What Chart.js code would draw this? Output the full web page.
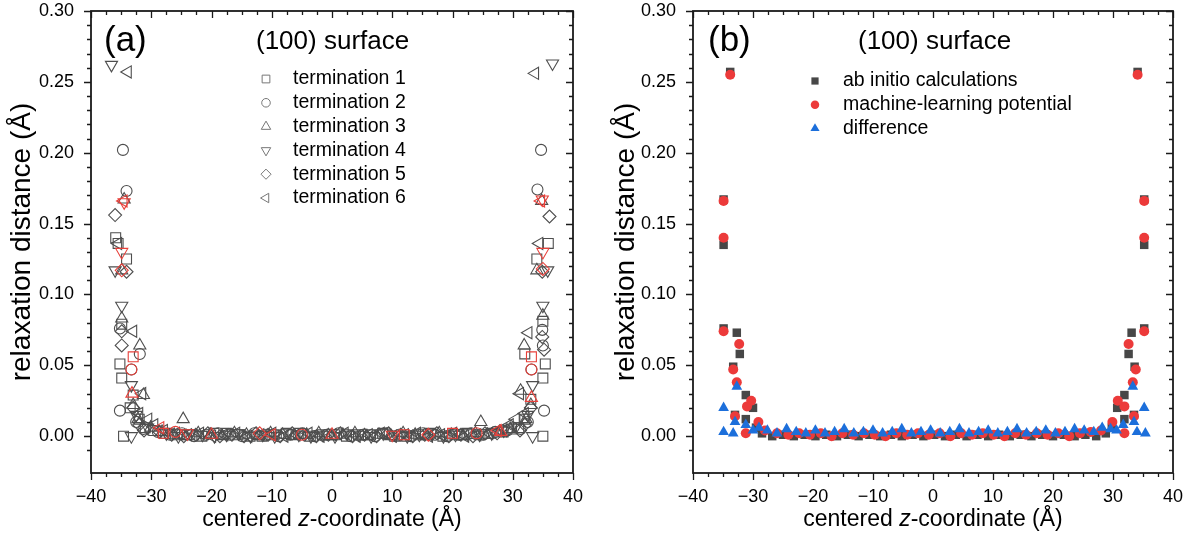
<!DOCTYPE html>
<html>
<head>
<meta charset="utf-8">
<script src="https://cdn.jsdelivr.net/npm/chart.js@4.4.1/dist/chart.umd.min.js"></script>
<style>
  html, body { margin: 0; padding: 0; background: #fff; }
  #wrap { position: relative; width: 1199px; height: 536px; }
  canvas { position: absolute; top: 0; }
  #chartA { left: 0; }
  #chartB { left: 600px; }
</style>
</head>
<body>
<div id="wrap">
  <canvas id="chartA" width="600" height="536"></canvas>
  <canvas id="chartB" width="599" height="536"></canvas>
</div>
<script>
const FONT = "'Liberation Sans', Arial, sans-serif";

// axes
const xTicks = [-40, -30, -20, -10, 0, 10, 20, 30, 40];
const yTicks = [0, 0.05, 0.10, 0.15, 0.20, 0.25, 0.30];
const xMin = -40, xMax = 40;
const yMin = -0.026, yMax = 0.30;

// panel (a): relaxation per termination, [z, distance]
const termLabels = ['termination 1', 'termination 2', 'termination 3', 'termination 4', 'termination 5', 'termination 6'];

const term1 = [
  [-35.9,0.140],[-35.5,0.136],[-34.1,0.125],[-34.9,0.079],[-35.2,0.051],[-34.9,0.041],[-33.0,0.029],[-33.5,0.020],[-32.0,0.012],[-34.6,0.000],[-31.0,0.006],
  [-29.6,0.004],[-27.6,0.002],[-25.6,0.001],[-23.6,0.001],[-21.6,0.000],[-19.6,0.002],[-17.6,0.002],[-15.6,0.001],[-13.6,0.000],[-11.6,0.000],
  [-9.6,0.001],[-7.6,0.002],[-5.6,0.002],[-3.6,0.000],[-1.6,0.001],[0.4,0.001],[2.4,0.000],[4.4,0.001],[6.4,0.001],[8.4,0.002],
  [10.4,0.000],[12.4,0.000],[14.4,0.001],[16.4,0.002],[18.4,0.000],[20.4,0.001],[22.4,0.002],[24.4,0.001],[26.4,0.002],[28.4,0.003],
  [29.8,0.005],[31.0,0.006],[32.0,0.012],[33.0,0.026],[35.0,0.000],[35.4,0.051],[35.0,0.041],[32.0,0.058],[34.0,0.125],[35.9,0.136],[35.0,0.081]
];
const term2 = [
  [-34.7,0.202],[-34.1,0.173],[-35.2,0.076],[-31.9,0.058],[-33.3,0.047],[-35.2,0.018],[-32.5,0.010],[-31.3,0.005],
  [-28.9,0.003],[-26.9,0.001],[-24.9,0.002],[-22.9,0.000],[-20.9,0.001],[-18.9,0.002],[-16.9,0.001],[-14.9,0.000],[-12.9,0.002],[-10.9,0.001],
  [-8.9,0.000],[-6.9,0.001],[-4.9,0.002],[-2.9,0.000],[-0.9,0.001],[1.1,0.002],[3.1,0.000],[5.1,0.001],[7.1,0.000],[9.1,0.002],
  [11.1,0.001],[13.1,0.000],[15.1,0.002],[17.1,0.001],[19.1,0.000],[21.1,0.001],[23.1,0.002],[25.1,0.001],[27.1,0.003],[29.1,0.004],
  [31.3,0.005],[32.5,0.010],[35.2,0.018],[33.1,0.047],[35.0,0.064],[34.9,0.075],[34.1,0.174],[34.7,0.202]
];
const term3 = [
  [-34.5,0.167],[-34.9,0.117],[-34.9,0.083],[-31.9,0.064],[-31.3,0.029],[-33.0,0.022],[-32.2,0.012],[-24.7,0.012],
  [-30.1,0.006],[-28.2,0.003],[-26.2,0.001],[-24.2,0.000],[-22.2,0.002],[-20.2,0.001],[-18.2,0.000],[-16.2,0.002],[-14.2,0.001],[-12.2,0.000],
  [-10.2,0.002],[-8.2,0.001],[-6.2,0.000],[-4.2,0.001],[-2.2,0.002],[-0.2,0.000],[1.8,0.001],[3.8,0.002],[5.8,0.000],[7.8,0.001],
  [9.8,0.000],[11.8,0.002],[13.8,0.001],[15.8,0.000],[17.8,0.002],[19.8,0.001],[21.8,0.000],[23.8,0.002],[25.8,0.001],[27.8,0.003],[29.6,0.005],
  [24.7,0.010],[31.3,0.032],[32.2,0.012],[33.0,0.022],[31.9,0.064],[35.0,0.085],[34.0,0.117],[34.8,0.166]
];
const term4 = [
  [-36.6,0.262],[-36.0,0.117],[-34.9,0.092],[-33.3,0.036],[-33.3,0.000],[-32.5,0.015],[-30.6,0.006],
  [-27.5,0.002],[-25.5,0.000],[-23.5,0.002],[-21.5,0.001],[-19.5,0.000],[-17.5,0.001],[-15.5,0.002],[-13.5,0.000],[-11.5,0.001],[-9.5,0.000],
  [-7.5,0.002],[-5.5,0.001],[-3.5,0.000],[-1.5,0.001],[0.5,0.000],[2.5,0.002],[4.5,0.001],[6.5,0.000],[8.5,0.002],[10.5,0.001],
  [12.5,0.000],[14.5,0.001],[16.5,0.002],[18.5,0.000],[20.5,0.001],[22.5,0.002],[24.5,0.001],[26.5,0.002],[28.5,0.004],
  [30.6,0.007],[32.5,0.015],[33.3,0.000],[33.3,0.036],[35.0,0.092],[35.8,0.117],[36.6,0.263]
];
const term5 = [
  [-36.0,0.156],[-34.1,0.116],[-34.9,0.074],[-34.9,0.064],[-33.0,0.020],[-32.0,0.008],[-31.2,0.004],
  [-28.6,0.003],[-26.6,0.001],[-24.6,0.000],[-22.6,0.001],[-20.6,0.002],[-18.6,0.000],[-16.6,0.001],[-14.6,0.000],[-12.6,0.002],[-10.6,0.001],
  [-8.6,0.000],[-6.6,0.002],[-4.6,0.001],[-2.6,0.000],[-0.6,0.001],[1.4,0.002],[3.4,0.000],[5.4,0.001],[7.4,0.000],[9.4,0.002],
  [11.4,0.001],[13.4,0.000],[15.4,0.001],[17.4,0.002],[19.4,0.000],[21.4,0.001],[23.4,0.000],[25.4,0.002],[27.4,0.002],[29.0,0.004],
  [31.2,0.004],[32.0,0.008],[33.0,0.020],[35.2,0.061],[34.9,0.070],[34.9,0.116],[36.1,0.155]
];
const term6 = [
  [-33.9,0.257],[-35.5,0.136],[-33.0,0.074],[-31.5,0.030],[-32.0,0.016],[-29.5,0.008],[-30.5,0.012],
  [-27.9,0.004],[-25.9,0.002],[-23.9,0.001],[-21.9,0.002],[-19.9,0.000],[-17.9,0.001],[-15.9,0.002],[-13.9,0.000],[-11.9,0.001],[-9.9,0.002],
  [-7.9,0.000],[-5.9,0.001],[-3.9,0.002],[-1.9,0.000],[0.1,0.001],[2.1,0.002],[4.1,0.000],[6.1,0.001],[8.1,0.002],[10.1,0.000],
  [12.1,0.001],[14.1,0.002],[16.1,0.000],[18.1,0.001],[20.1,0.002],[22.1,0.000],[24.1,0.001],[26.1,0.002],[27.9,0.004],
  [29.5,0.008],[30.5,0.012],[32.0,0.016],[31.2,0.030],[32.6,0.073],[34.4,0.136],[33.7,0.256]
];

// panel (a): red overlays (machine-learning values) per termination
const ml1 = [[-33.0,0.056],[-28.0,0.002],[12.0,0.001],[20.0,0.002],[33.1,0.056]];
const ml2 = [[-33.3,0.047],[-26.0,0.003],[-5.0,0.001],[24.0,0.002],[33.1,0.047]];
const ml3 = [[-33.2,0.030],[-20.0,0.001],[0.0,0.001],[28.0,0.003],[33.1,0.027]];
const ml4 = [[-34.9,0.130],[-34.5,0.165],[-24.0,0.002],[10.0,0.001],[35.0,0.130],[34.9,0.167]];
const ml5 = [[-34.9,0.117],[-12.0,0.002],[16.0,0.001],[35.0,0.118]];
const ml6 = [[-34.6,0.166],[-28.5,0.006],[-10.0,0.001],[27.5,0.004],[34.7,0.166]];

// panel (b): comparison, [z, distance]
const compLabels = ['ab initio calculations', 'machine-learning potential', 'difference'];

const abInitio = [
  [-33.8,0.257],[-34.9,0.167],[-34.9,0.135],[-34.9,0.076],[-32.7,0.073],[-32.2,0.058],[-33.3,0.049],[-31.2,0.029],[-30.0,0.020],[-33.0,0.015],[-31.2,0.012],[-29.5,0.006],[-28.5,0.002],
  [-26.8,0.000],[-25.0,0.001],[-23.2,0.000],[-21.4,0.001],[-19.6,0.000],[-17.8,0.001],[-16.0,0.000],[-14.2,0.001],[-12.4,0.000],[-10.6,0.001],[-8.8,0.000],
  [-7.0,0.001],[-5.2,0.000],[-3.4,0.001],[-1.6,0.000],[0.2,0.001],[2.0,0.000],[3.8,0.001],[5.6,0.000],[7.4,0.001],[9.2,0.000],[11.0,0.001],
  [12.8,0.000],[14.6,0.001],[16.4,0.000],[18.2,0.001],[20.0,0.000],[21.8,0.001],[23.6,0.000],[25.4,0.001],[27.2,0.000],
  [28.8,0.002],[29.8,0.006],[31.9,0.012],[33.5,0.015],[30.7,0.020],[31.9,0.029],[33.6,0.049],[32.6,0.058],[33.1,0.073],[35.2,0.076],[35.2,0.135],[35.2,0.167],[34.1,0.257]
];
const mlPotential = [
  [-33.8,0.255],[-34.9,0.166],[-34.9,0.140],[-34.9,0.074],[-32.3,0.065],[-33.3,0.047],[-32.7,0.038],[-30.3,0.025],[-31.0,0.021],[-33.0,0.014],[-29.1,0.010],[-31.2,0.002],[-28.0,0.004],
  [-26.0,0.002],[-24.1,0.001],[-22.3,0.002],[-20.5,0.001],[-18.7,0.002],[-16.9,0.000],[-15.1,0.002],[-13.3,0.001],[-11.5,0.002],[-9.7,0.001],[-7.9,0.000],
  [-6.1,0.002],[-4.3,0.001],[-2.5,0.002],[-0.7,0.001],[1.1,0.002],[2.9,0.000],[4.7,0.002],[6.5,0.001],[8.3,0.002],[10.1,0.001],[11.9,0.000],
  [13.7,0.002],[15.5,0.001],[17.3,0.002],[19.1,0.001],[20.9,0.002],[22.7,0.000],[24.5,0.002],[26.3,0.003],
  [28.0,0.004],[29.9,0.010],[31.9,0.002],[33.5,0.014],[31.9,0.021],[30.8,0.025],[33.3,0.038],[33.8,0.047],[32.6,0.065],[35.2,0.074],[35.2,0.140],[35.2,0.166],[34.1,0.255]
];
const difference = [
  [-34.9,0.020],[-32.7,0.035],[-33.0,0.010],[-31.2,0.008],[-34.9,0.003],[-33.3,0.002],[-30.0,0.004],[-29.0,0.006],
  [-27.6,0.004],[-26.0,0.002],[-24.4,0.005],[-22.8,0.003],[-21.2,0.002],[-19.6,0.004],[-18.0,0.002],[-16.4,0.003],[-14.8,0.005],[-13.2,0.002],
  [-11.6,0.003],[-10.0,0.004],[-8.4,0.002],[-6.8,0.003],[-5.2,0.005],[-3.6,0.002],[-2.0,0.003],[-0.4,0.004],[1.2,0.002],[2.8,0.003],
  [4.4,0.005],[6.0,0.002],[7.6,0.003],[9.2,0.004],[10.8,0.002],[12.4,0.003],[14.0,0.005],[15.6,0.002],[17.2,0.003],[18.8,0.004],
  [20.4,0.002],[22.0,0.003],[23.6,0.005],[25.2,0.004],[26.8,0.003],
  [28.2,0.006],[29.6,0.005],[30.6,0.004],[31.7,0.008],[33.5,0.010],[33.3,0.035],[35.2,0.020],[34.0,0.003],[35.4,0.002]
];

// marker looks
const termShapes = [
  { pointStyle: 'rect', rotation: 0, radius: 7 },
  { pointStyle: 'circle', rotation: 0, radius: 5.5 },
  { pointStyle: 'triangle', rotation: 0, radius: 7 },
  { pointStyle: 'triangle', rotation: 180, radius: 7 },
  { pointStyle: 'rectRot', rotation: 0, radius: 6.5 },
  { pointStyle: 'triangle', rotation: 270, radius: 7 }
];
const compShapes = [
  { pointStyle: 'rect', rotation: 0, radius: 6, color: '#474747' },
  { pointStyle: 'circle', rotation: 0, radius: 5, color: '#ec3a3a' },
  { pointStyle: 'triangle', rotation: 0, radius: 6.2, color: '#1c6fdb' }
];

const toXY = arr => arr.map(([x, y]) => ({ x, y }));
const fmtX = v => (v < 0 ? '\u2212' + Math.abs(v) : String(v));

function hollow(data, shape, color) {
  return {
    data: toXY(data),
    pointStyle: shape.pointStyle,
    rotation: shape.rotation,
    radius: shape.radius,
    borderWidth: 1.1,
    borderColor: color,
    backgroundColor: 'rgba(255,255,255,0)'
  };
}
function filled(data, shape) {
  return {
    data: toXY(data),
    pointStyle: shape.pointStyle,
    rotation: shape.rotation,
    radius: shape.radius,
    borderWidth: 0,
    borderColor: shape.color,
    backgroundColor: shape.color
  };
}

// frame with outward ticks on bottom/left and inward on top/right
const framePlugin = {
  id: 'frame',
  afterDatasetsDraw(chart) {
    const { ctx, chartArea: a, scales: { x, y } } = chart;
    ctx.save();
    ctx.strokeStyle = '#1a1a1a';
    ctx.lineWidth = 1.3;
    ctx.beginPath();
    for (let i = 0; i <= 32; i++) {
      const px = Math.round(x.getPixelForValue(xMin + i * 2.5)) + 0.5;
      const len = i % 4 === 0 ? 7 : 4;
      ctx.moveTo(px, a.bottom); ctx.lineTo(px, a.bottom + len);
      ctx.moveTo(px, a.top); ctx.lineTo(px, a.top + len);
    }
    for (let i = -1; i <= 30; i++) {
      const py = Math.round(y.getPixelForValue(i / 100)) + 0.5;
      const len = i % 5 === 0 ? 7 : 4;
      ctx.moveTo(a.left, py); ctx.lineTo(a.left - len, py);
      ctx.moveTo(a.right, py); ctx.lineTo(a.right - len, py);
    }
    ctx.stroke();
    ctx.lineWidth = 1.8;
    ctx.strokeRect(a.left, a.top, a.right - a.left, a.bottom - a.top);
    ctx.restore();
  }
};

// panel tag, surface title, legend and x-axis title
const annotPlugin = {
  id: 'annot',
  afterDraw(chart, args, o) {
    const { ctx, chartArea: a } = chart;
    ctx.save();
    ctx.fillStyle = '#000';
    ctx.textAlign = 'left';
    ctx.textBaseline = 'middle';
    ctx.font = '35px ' + FONT;
    ctx.fillText(o.tag, o.tagX, 41);
    ctx.font = '26px ' + FONT;
    ctx.fillText('(100) surface', o.titleX, 42);

    o.items.forEach((it, i) => {
      const y = o.legY + i * o.legStep;
      ctx.save();
      ctx.strokeStyle = it.stroke;
      ctx.fillStyle = it.fill;
      Chart.helpers.drawPoint(ctx, {
        pointStyle: it.shape.pointStyle, rotation: it.shape.rotation,
        radius: it.shape.radius * o.legScale, borderWidth: it.border
      }, o.symX, y);
      ctx.restore();
      ctx.font = '19.5px ' + FONT;
      ctx.fillText(it.label, o.textX, y);
    });

    // x title with italic z
    const parts = [['centered ', ''], ['z', 'italic '], ['-coordinate (\u00C5)', '']];
    let w = 0;
    parts.forEach(p => { ctx.font = p[1] + '23px ' + FONT; w += ctx.measureText(p[0]).width; });
    let x = (a.left + a.right) / 2 - w / 2;
    parts.forEach(p => {
      ctx.font = p[1] + '23px ' + FONT;
      ctx.fillText(p[0], x, 520);
      x += ctx.measureText(p[0]).width;
    });
    ctx.restore();
  }
};

function scalesFor(yWidth, titlePad) {
  return {
    x: {
      type: 'linear', min: xMin, max: xMax,
      afterBuildTicks: s => { s.ticks = xTicks.map(v => ({ value: v })); },
      afterFit: s => { s.height = 63; s.paddingLeft = 0; s.paddingRight = 0; },
      grid: { display: false, drawTicks: false },
      border: { display: false },
      ticks: {
        autoSkip: false, maxRotation: 0, padding: 13, color: '#000',
        font: { family: FONT, size: 18 },
        callback: v => fmtX(v)
      }
    },
    y: {
      type: 'linear', min: yMin, max: yMax,
      afterBuildTicks: s => { s.ticks = yTicks.map(v => ({ value: v })); },
      afterFit: s => { s.width = yWidth; s.paddingTop = 0; s.paddingBottom = 0; },
      grid: { display: false, drawTicks: false },
      border: { display: false },
      ticks: {
        autoSkip: false, padding: 17, color: '#000',
        font: { family: FONT, size: 18 },
        callback: v => v.toFixed(2)
      },
      title: {
        display: true, text: 'relaxation distance (\u00C5)', color: '#000',
        font: { family: FONT, size: 28 },
        padding: { top: titlePad, bottom: 0 }
      }
    }
  };
}

function makeChart(id, datasets, cfg) {
  return new Chart(document.getElementById(id), {
    type: 'scatter',
    data: { datasets },
    options: {
      responsive: false,
      animation: false,
      events: [],
      layout: { padding: { left: 0, top: cfg.padTop, right: cfg.padRight, bottom: 0 } },
      plugins: { legend: { display: false }, tooltip: { enabled: false }, annot: cfg.annot },
      scales: scalesFor(cfg.yWidth, cfg.titlePad)
    },
    plugins: [framePlugin, annotPlugin]
  });
}

// panel (a)
const GREY = '#4e4e4e';
const RED = '#e8403a';
const termData = [term1, term2, term3, term4, term5, term6];
const mlData = [ml1, ml2, ml3, ml4, ml5, ml6];
const dsA = [
  ...mlData.map((d, i) => hollow(d, termShapes[i], RED)),
  ...termData.map((d, i) => hollow(d, termShapes[i], GREY))
];
makeChart('chartA', dsA, {
  padTop: 11, padRight: 27, yWidth: 91, titlePad: 5,
  annot: {
    tag: '(a)', tagX: 104, titleX: 256,
    symX: 266, textX: 293, legY: 79, legStep: 23.8, legScale: 0.78,
    items: termLabels.map((l, i) => ({ label: l, shape: termShapes[i], stroke: '#777', fill: 'rgba(255,255,255,0)', border: 1 }))
  }
});

// panel (b): difference drawn on top
const dsB = [
  filled(difference, compShapes[2]),
  filled(mlPotential, compShapes[1]),
  filled(abInitio, compShapes[0])
];
makeChart('chartB', dsB, {
  padTop: 11, padRight: 26, yWidth: 93, titlePad: 9,
  annot: {
    tag: '(b)', tagX: 108, titleX: 258,
    symX: 215, textX: 243, legY: 81, legStep: 23.7, legScale: 0.85,
    items: compLabels.map((l, i) => ({ label: l, shape: compShapes[i], stroke: compShapes[i].color, fill: compShapes[i].color, border: 0 }))
  }
});
</script>
</body>
</html>
